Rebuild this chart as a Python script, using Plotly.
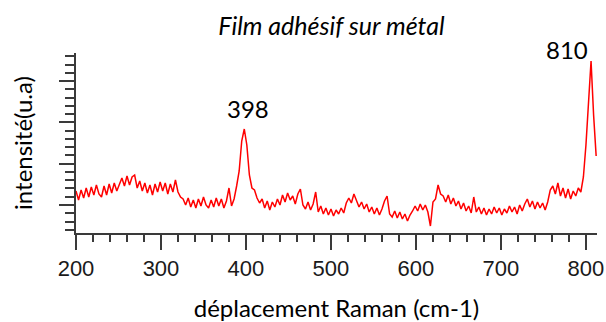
import numpy as np
import plotly.graph_objects as go

# Raman shift grid (cm-1) and intensity (arbitrary units)
wavenumber = np.arange(200, 813, 3)
intensity = [
    42, 33, 43, 35, 45, 36, 46, 38, 48, 39,      # 200-227
    36, 47, 38, 49, 40, 50, 42, 48, 55, 47,      # 230-257
    57, 48, 56, 58, 45, 52, 42, 50, 40, 48,      # 260-287
    38, 49, 41, 51, 42, 50, 39, 49, 41, 53,      # 290-317
    41, 36, 34, 28, 35, 26, 33, 25, 34, 27,      # 320-347
    36, 28, 25, 33, 26, 35, 27, 34, 25, 32,      # 350-377
    45, 27, 34, 47, 62, 92, 104, 88, 58, 45,     # 380-407
    43, 35, 30, 34, 25, 32, 23, 31, 26, 34,      # 410-437
    28, 38, 31, 40, 33, 37, 29, 39, 44, 28,      # 440-467
    24, 31, 23, 29, 41, 21, 27, 19, 25, 18,      # 470-497
    24, 17, 23, 19, 25, 20, 30, 35, 30, 39,      # 500-527
    33, 26, 31, 24, 29, 21, 26, 19, 25, 18,      # 530-557
    24, 32, 37, 19, 16, 22, 15, 21, 14, 19,      # 560-587
    12, 18, 22, 27, 22, 29, 23, 28, 21, 7,       # 590-617
    31, 34, 48, 39, 37, 31, 38, 29, 35, 27,      # 620-647
    32, 24, 30, 22, 27, 20, 36, 21, 26, 19,      # 650-677
    25, 18, 24, 19, 26, 20, 25, 18, 24, 20,      # 680-707
    27, 21, 26, 19, 28, 22, 29, 34, 26, 32,      # 710-737
    24, 31, 25, 30, 23, 31, 43, 47, 39, 50,      # 740-767
    37, 45, 35, 44, 34, 42, 37, 45, 41, 56,      # 770-797
    88, 130, 172, 118, 77,                       # 800-812
]
peak_labels = ["398", "810"]
x_tick_values = [200, 300, 400, 500, 600, 700, 800]

fig = go.Figure()
fig.add_trace(go.Scatter(
    x=wavenumber, y=intensity, mode="lines",
    line=dict(color="#ff0000", width=1.5),
    showlegend=False, hoverinfo="skip",
))

label_font = dict(family="Lato, Carlito, sans-serif", size=24, color="#000000")
fig.add_annotation(x=402, xref="x", y=(233 - 108.5) / 180, yref="paper",
                   text=peak_labels[0], showarrow=False,
                   font=label_font, xanchor="center", yanchor="middle")
fig.add_annotation(x=778, xref="x", y=(233 - 49) / 180, yref="paper",
                   text=peak_labels[1], showarrow=False,
                   font=label_font, xanchor="center", yanchor="middle")

axis_col = "#3a3a3a"
fig.update_layout(
    width=606, height=322,
    margin=dict(l=76, r=9, t=53, b=89),
    paper_bgcolor="white", plot_bgcolor="white",
    title=dict(text="<i>Film adhésif sur métal</i>", x=0.547, xanchor="center",
               y=1 - 26 / 322, yanchor="middle", yref="container",
               font=dict(family="Lato, sans-serif", size=25, color="#000000")),
    xaxis=dict(
        range=[200, 813], tickvals=x_tick_values,
        ticks="outside", ticklen=15, tickwidth=2, tickcolor=axis_col,
        minor=dict(dtick=20, tick0=200, ticks="outside", ticklen=7, tickwidth=2, tickcolor=axis_col),
        showline=True, linecolor=axis_col, linewidth=2, showgrid=False, zeroline=False,
        tickfont=dict(family="Liberation Sans, Arial, sans-serif", size=22, color="#1a1a1a"),
        title=dict(text="déplacement Raman (cm-1)", standoff=20,
                   font=dict(family="Lato, sans-serif", size=24, color="#000000")),
        automargin=False,
    ),
    yaxis=dict(
        range=[0, 180], tick0=28, dtick=41.3, showticklabels=False,
        ticks="outside", ticklen=15, tickwidth=2, tickcolor=axis_col,
        minor=dict(tick0=28, dtick=8.26, ticks="outside", ticklen=9, tickwidth=2, tickcolor=axis_col),
        showline=True, linecolor=axis_col, linewidth=2, showgrid=False, zeroline=False,
        title=dict(text="intensité(u.a)", standoff=20,
                   font=dict(family="Lato, sans-serif", size=24, color="#000000")),
        automargin=False,
    ),
)

fig.write_html("out.html", config={"displayModeBar": False},
               post_script="document.body.style.margin='0';document.body.style.padding='0';")
